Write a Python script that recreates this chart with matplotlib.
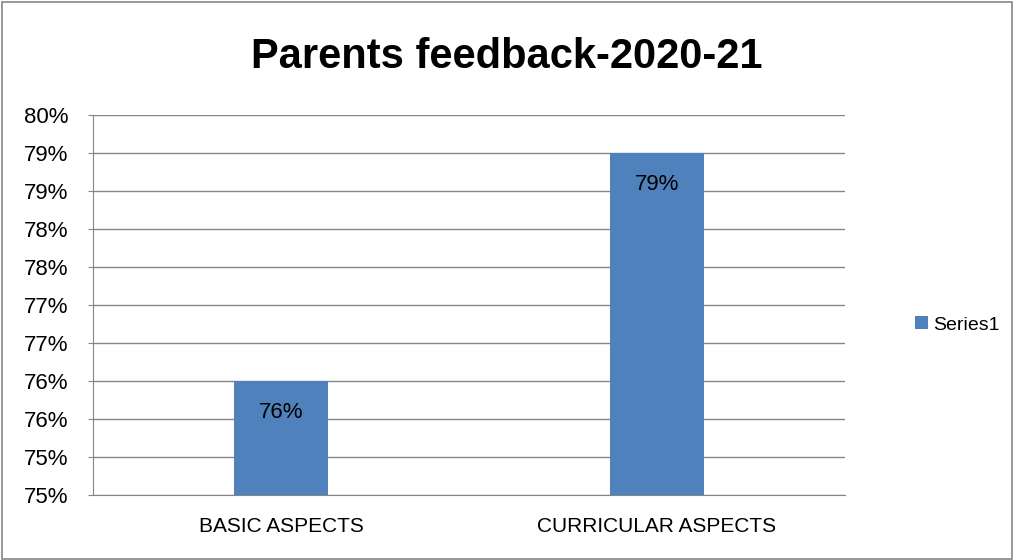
import math
import matplotlib
matplotlib.use("Agg")
import matplotlib.pyplot as plt
from matplotlib.ticker import FuncFormatter, MultipleLocator
from matplotlib.patches import Rectangle

categories = ["BASIC ASPECTS", "CURRICULAR ASPECTS"]
values = [0.76, 0.79]
series_name = "Series1"
title = "Parents feedback-2020-21"

plt.rcParams['font.family'] = ['Liberation Sans', 'DejaVu Sans']

fig = plt.figure(figsize=(10.14, 5.6), dpi=100)
ax = fig.add_axes([93 / 1014, 1 - 495 / 560, 752 / 1014, 380 / 560])

bar_color = "#4F81BD"
bars = ax.bar(range(len(categories)), values, width=0.25, color=bar_color, label=series_name, zorder=3)

ax.set_xlim(-0.5, len(categories) - 0.5)
ax.set_ylim(0.745, 0.795)
ax.yaxis.set_major_locator(MultipleLocator(0.005))

def pct_half_up(v, pos):
    return "%d%%" % math.floor(v * 100 + 0.5 + 1e-9)

ax.yaxis.set_major_formatter(FuncFormatter(pct_half_up))
ax.set_xticks(range(len(categories)))
ax.set_xticklabels(categories)

# Excel-like styling
grid_col = "#868686"
ax.grid(axis="y", color=grid_col, linewidth=1.0, zorder=0)
for side in ["top", "right"]:
    ax.spines[side].set_visible(False)
ax.spines["left"].set_color(grid_col)
ax.spines["bottom"].set_color(grid_col)
ax.tick_params(axis="y", direction="out", length=3.5, color=grid_col, labelsize=16, pad=14)
ax.tick_params(axis="x", length=0, labelsize=15, pad=16)

for b, v in zip(bars, values):
    ax.annotate("%d%%" % round(v * 100), (b.get_x() + b.get_width() / 2, v),
                xytext=(0, -23), textcoords="offset points", ha="center", va="center",
                fontsize=16, zorder=4)

fig.text(507 / 1014, 1 - 57 / 560, title, ha="center", va="center", fontsize=30, fontweight="bold")

leg = ax.legend(loc="center left", bbox_to_anchor=(1.07, 0.447), frameon=False, fontsize=14,
                handlelength=0.65, handleheight=0.65, handletextpad=0.3)

fig.patches.append(Rectangle((0.002, 0.002), 0.996, 0.994, transform=fig.transFigure,
                             fill=False, edgecolor="#868686", linewidth=1.2))

fig.savefig("out.png", dpi=100, facecolor="white")
